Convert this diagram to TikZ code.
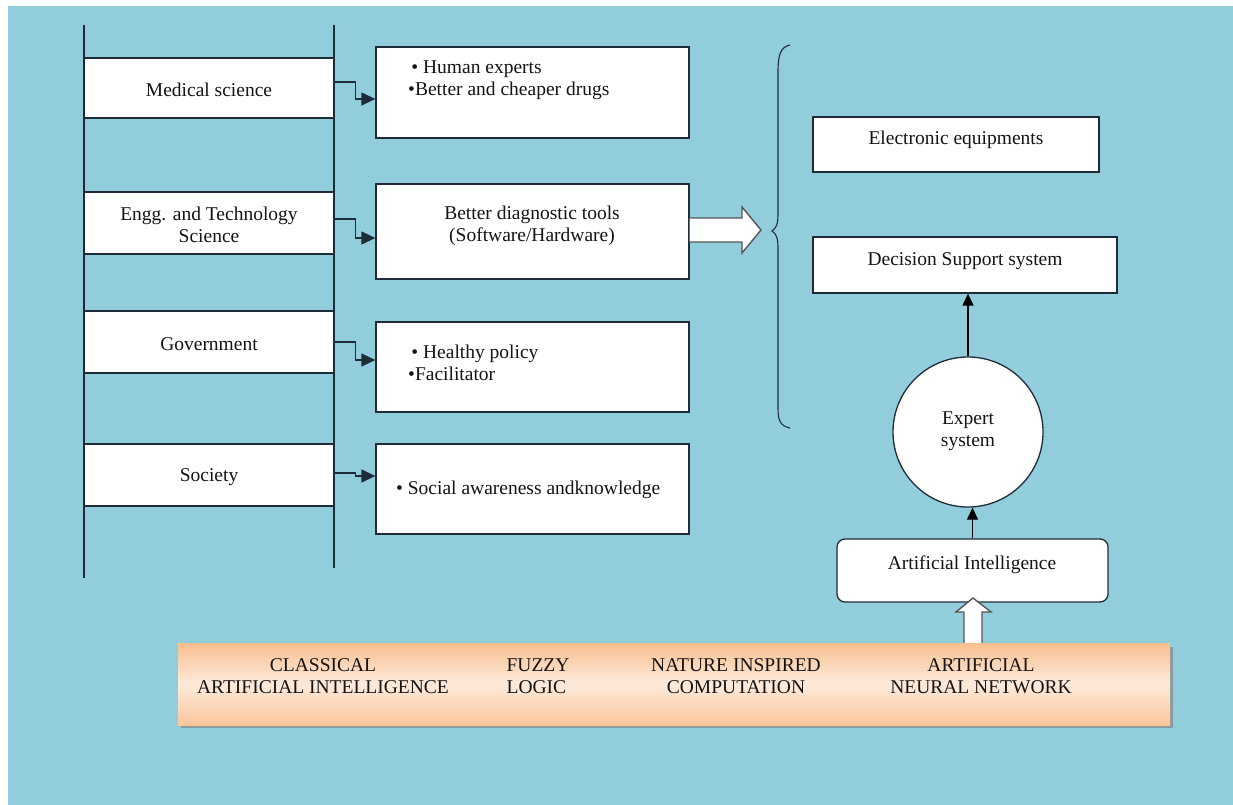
\documentclass[tikz,border=0pt]{standalone}
\usepackage{fontspec}
\setmainfont{Liberation Serif}
\usetikzlibrary{arrows.meta,calc}
\definecolor{bgblue}{HTML}{92CDDC}
\definecolor{linec}{HTML}{1E2B38}
\definecolor{peachA}{HTML}{F9BF8F}
\definecolor{peachB}{HTML}{FEEADB}
\definecolor{peachC}{HTML}{F9C69B}
\definecolor{arrgray}{HTML}{555555}
\definecolor{txtc}{HTML}{141414}
\begin{document}
\begin{tikzpicture}[x=1pt,y=-1pt,
  font=\fontsize{19.5}{22.5}\selectfont,
  box/.style={draw=linec, line width=1.3pt, fill=white, inner sep=0pt},
  txt/.style={inner sep=0pt, align=center, text=txtc},
  ltxt/.style={inner sep=0pt, align=left, text=txtc, anchor=west},
  conn/.style={draw=linec, line width=1.3pt, -{Triangle[length=14pt,width=13pt]}},
  vconn/.style={draw=black, line width=1.3pt, -{Triangle[length=12pt,width=11pt]}},
  blockarrow/.style={fill=white, draw=arrgray, line width=1.4pt, line join=miter},
  rail/.style={draw=linec, line width=1.3pt}]
% canvas
\useasboundingbox (0,0) rectangle (1233,805);
\fill[white] (0,0) rectangle (1233,805);
\fill[bgblue] (8,6) rectangle (1233,805);

% rails
\coordinate (r1t) at (84,25);  \coordinate (r1b) at (84,578);
\coordinate (r2t) at (334,25); \coordinate (r2b) at (334,568);
\draw[rail] (r1t) -- (r1b);
\draw[rail] (r2t) -- (r2b);

% left boxes
\node[box, minimum width=250pt, minimum height=60pt] (med) at (209,88) {};
\node[txt] at (209,90) {Medical science};
\node[box, minimum width=250pt, minimum height=62pt] (eng) at (209,223) {};
\node[txt] at (209,225) {Engg. and Technology\\Science};
\node[box, minimum width=250pt, minimum height=62pt] (gov) at (209,342) {};
\node[txt] at (209,344) {Government};
\node[box, minimum width=250pt, minimum height=62pt] (soc) at (209,475) {};
\node[txt] at (209,477) {Society};

% middle boxes
\node[box, minimum width=313pt, minimum height=91pt] (b1) at (532.5,92.5) {};
\node[ltxt] at (408,80) {\,• Human experts\\•Better and cheaper drugs};
\node[box, minimum width=313pt, minimum height=95pt] (b2) at (532.5,231.5) {};
\node[txt] at (532,226) {Better diagnostic tools\\(Software/Hardware)};
\node[box, minimum width=313pt, minimum height=90pt] (b3) at (532.5,367) {};
\node[ltxt] at (408,363) {\,• Healthy policy\\•Facilitator};
\node[box, minimum width=313pt, minimum height=90pt] (b4) at (532.5,489) {};
\node[ltxt] at (396,490) {• Social awareness andknowledge};

% elbow connectors
\draw[conn] ([yshift=6pt]med.east) -- ++(21,0) |- ([yshift=-6.5pt]b1.west);
\draw[conn] ([yshift=4pt]eng.east) -- ++(21,0) |- ([yshift=-6.5pt]b2.west);
\draw[conn] (gov.east) -- ++(21,0) |- ([yshift=7pt]b3.west);
\draw[conn] ([yshift=2pt]soc.east) -- ++(21,0) |- ([yshift=-1pt]soc.east -| b4.west);

% block arrow to brace
\path[blockarrow] (b2.east |- 0,218) -- (742,218) -- (742,207) -- (761,230) -- (742,253) -- (742,242) -- (b2.east |- 0,242);

% brace
\draw[linec, line width=1.1pt] (790,45) .. controls (780,47) and (778,56) .. (778,72) -- (778,214)
  .. controls (778,225) and (776,228) .. (772,231)
  .. controls (776,234) and (778,237) .. (778,248) -- (778,408)
  .. controls (778,420) and (780,426) .. (790,428);

% right side
\node[box, minimum width=286pt, minimum height=55pt] (ele) at (956,144.5) {};
\node[txt] at (956,140) {Electronic equipments};
\node[box, minimum width=304pt, minimum height=56pt] (dss) at (965,265) {};
\node[txt] at (965,261) {Decision Support system};
\node[box, circle, minimum size=150pt] (es) at (968,432) {};
\node[txt] at (968,431) {Expert\\system};
\node[box, rounded corners=8pt, minimum width=271pt, minimum height=63pt] (ai) at (972.5,570.5) {};
\node[txt] at (972,565) {Artificial Intelligence};

\draw[vconn] (es.north) -- (es.north |- dss.south);
\draw[vconn] (ai.north) -- (ai.north |- es.south);

% up block arrow
\path[blockarrow] (964,645) -- (964,612) -- (956,612) -- (973,598) -- (991,612) -- (982,612) -- (982,645);

% bottom bar
\fill[black!45, opacity=0.8] (181,647) rectangle (1173,728);
\shade[top color=peachA, bottom color=peachC, middle color=peachB] (178,643) rectangle (1170,725);
\node[inner sep=0pt, minimum width=992pt, minimum height=82pt] (bar) at (674,684) {};
\node[txt] (t1) at (323,676) {CLASSICAL\\ARTIFICIAL INTELLIGENCE};
\node[inner sep=0pt, align=left, text=txtc] (t2) at (538,676) {FUZZY\\LOGIC};
\node[txt] (t3) at (736,676) {NATURE INSPIRED\\COMPUTATION};
\node[txt] (t4) at (981,676) {ARTIFICIAL\\NEURAL NETWORK};
\end{tikzpicture}
\end{document}
